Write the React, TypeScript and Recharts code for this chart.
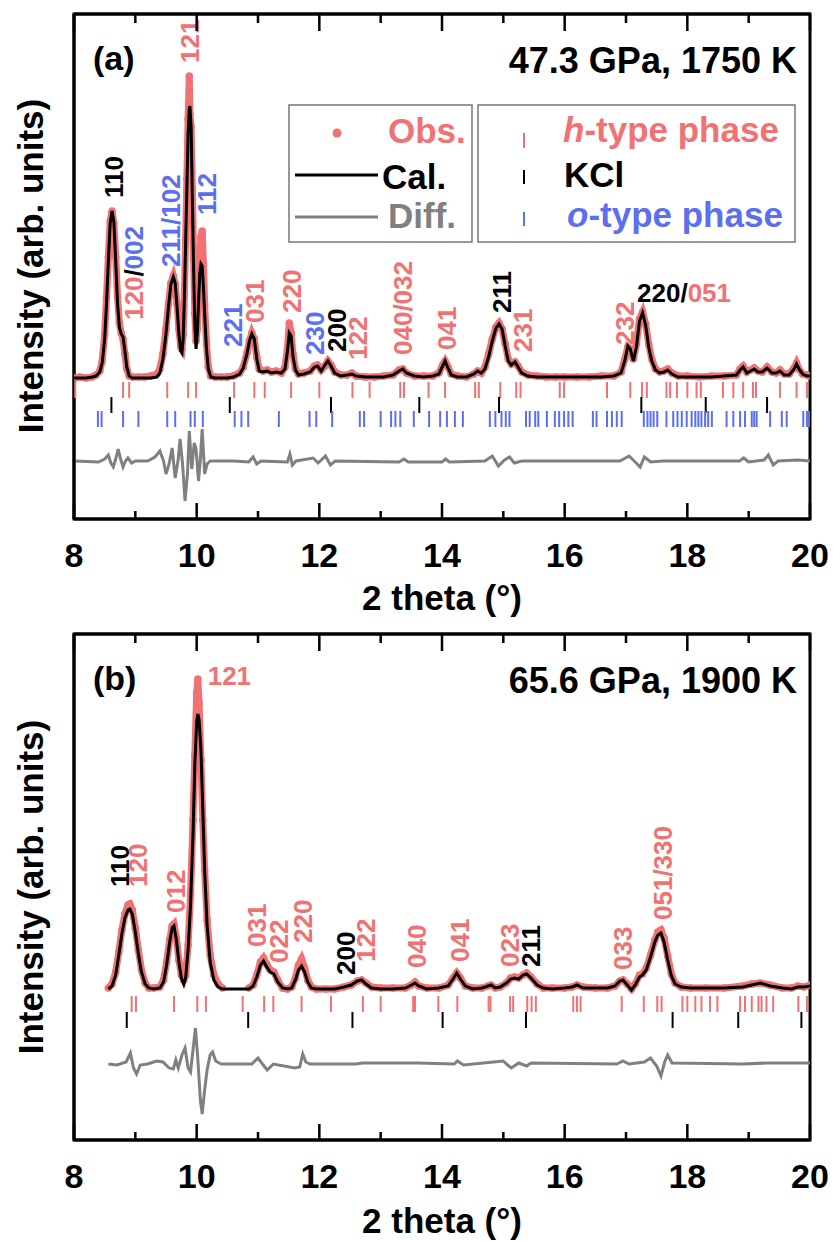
import React from 'react';
import { ComposedChart, Line, Scatter, XAxis, YAxis, ReferenceArea } from 'recharts';

const RED = '#f07272';
const BLUE = '#5b6ff0';
const GRAY = '#808080';
const FONT = "'Liberation Sans', Arial, Helvetica, sans-serif";
const PHASE_COLOR: Record<string, string> = { h: RED, k: '#000000', o: BLUE };

const xTicks = [8, 9, 10, 11, 12, 13, 14, 15, 16, 17, 18, 19, 20];

// ---------------- Panel (a): 47.3 GPa, 1750 K ----------------
const thetaA = [
  8.00, 8.10, 8.20, 8.30, 8.36, 8.42, 8.46, 8.50, 8.53, 8.56,
  8.59, 8.62, 8.65, 8.68, 8.71, 8.74, 8.77, 8.80, 8.83, 8.86,
  8.90, 8.95, 9.05, 9.15, 9.25, 9.35, 9.40, 9.45, 9.50, 9.54,
  9.58, 9.62, 9.65, 9.68, 9.71, 9.74, 9.76, 9.78, 9.80, 9.82,
  9.84, 9.86, 9.88, 9.89, 9.91, 9.93, 9.95, 9.97, 9.99, 10.01,
  10.03, 10.05, 10.07, 10.09, 10.11, 10.13, 10.16, 10.19, 10.23, 10.30,
  10.40, 10.50, 10.60, 10.70, 10.76, 10.82, 10.86, 10.90, 10.94, 10.98,
  11.02, 11.08, 11.15, 11.22, 11.30, 11.38, 11.44, 11.48, 11.51, 11.54,
  11.57, 11.61, 11.66, 11.75, 11.85, 11.92, 11.97, 12.03, 12.09, 12.14,
  12.19, 12.25, 12.35, 12.45, 12.53, 12.60, 12.75, 12.90, 13.05, 13.20,
  13.30, 13.36, 13.42, 13.55, 13.70, 13.85, 13.95, 14.01, 14.05, 14.09,
  14.15, 14.25, 14.40, 14.52, 14.58, 14.64, 14.70, 14.76, 14.82, 14.88,
  14.93, 14.98, 15.03, 15.08, 15.13, 15.19, 15.24, 15.30, 15.40, 15.55,
  15.70, 15.85, 16.00, 16.20, 16.40, 16.60, 16.80, 16.92, 16.98, 17.03,
  17.07, 17.12, 17.17, 17.22, 17.27, 17.32, 17.37, 17.42, 17.48, 17.55,
  17.62, 17.68, 17.75, 17.85, 18.00, 18.20, 18.40, 18.60, 18.80, 18.86,
  18.91, 18.97, 19.03, 19.09, 19.15, 19.22, 19.30, 19.38, 19.45, 19.51,
  19.58, 19.66, 19.74, 19.78, 19.82, 19.88, 19.95, 20.00,
];
const obsA = [
  141, 142, 141, 142, 144, 148, 158, 185, 222, 262,
  298, 308, 296, 262, 222, 196, 186, 180, 165, 150,
  143, 142, 142, 142, 143, 145, 150, 165, 190, 215,
  236, 243, 235, 215, 190, 172, 170, 185, 225, 280,
  340, 400, 443, 405, 392, 330, 260, 205, 178, 190,
  230, 262, 282, 288, 255, 215, 175, 152, 143, 142,
  142, 142, 143, 146, 152, 166, 178, 186, 180, 162,
  150, 148, 149, 147, 148, 146, 152, 170, 196, 186,
  165, 150, 145, 146, 148, 153, 154, 149, 153, 158,
  154, 147, 144, 144, 146, 143, 142, 142, 143, 144,
  149, 150, 146, 143, 143, 143, 146, 154, 158, 153,
  145, 143, 142, 145, 148, 146, 152, 165, 180, 192,
  196, 190, 175, 160, 155, 157, 153, 147, 144, 143,
  142, 142, 142, 142, 142, 143, 143, 147, 160, 172,
  170, 160, 175, 200, 207, 195, 175, 160, 150, 147,
  148, 150, 146, 143, 143, 142, 143, 143, 144, 150,
  153, 147, 149, 151, 148, 147, 152, 147, 146, 149,
  145, 145, 151, 156, 150, 145, 144, 143,
];
const calA = [
  141, 141, 141, 142, 143, 147, 156, 180, 215, 258,
  296, 308, 297, 258, 215, 192, 185, 182, 168, 152,
  143, 141, 141, 141, 141, 142, 146, 160, 185, 212,
  235, 242, 236, 212, 185, 168, 166, 180, 220, 275,
  330, 385, 410, 413, 392, 320, 250, 195, 170, 185,
  215, 245, 255, 253, 232, 205, 170, 150, 142, 141,
  141, 141, 142, 145, 151, 165, 178, 185, 180, 160,
  148, 147, 148, 146, 147, 146, 150, 168, 186, 183,
  163, 149, 144, 145, 147, 152, 153, 148, 154, 158,
  153, 146, 143, 144, 145, 143, 142, 142, 142, 144,
  148, 150, 146, 143, 142, 143, 145, 153, 158, 152,
  144, 142, 142, 145, 148, 146, 150, 162, 178, 191,
  195, 190, 173, 158, 154, 157, 152, 146, 143, 142,
  142, 142, 142, 142, 142, 142, 143, 146, 158, 173,
  170, 158, 172, 198, 206, 194, 172, 158, 149, 146,
  147, 149, 145, 142, 142, 142, 142, 143, 144, 149,
  152, 146, 148, 150, 147, 147, 151, 146, 146, 148,
  144, 144, 150, 155, 150, 145, 143, 143,
];
const diffThetaA = [
  8.00, 8.40, 8.50, 8.56, 8.60, 8.64, 8.68, 8.72, 8.76, 8.80,
  8.84, 8.88, 8.94, 9.00, 9.20, 9.32, 9.40, 9.46, 9.50, 9.55,
  9.60, 9.65, 9.70, 9.73, 9.77, 9.81, 9.85, 9.88, 9.92, 9.96,
  9.99, 10.03, 10.06, 10.09, 10.13, 10.17, 10.22, 10.60, 10.85, 10.92,
  10.98, 11.05, 11.48, 11.52, 11.56, 11.62, 11.90, 11.98, 12.10, 12.18,
  12.26, 13.30, 13.38, 13.45, 14.00, 14.06, 14.12, 14.70, 14.82, 14.92,
  15.02, 15.10, 15.18, 15.30, 16.90, 17.05, 17.15, 17.23, 17.30, 17.40,
  17.60, 18.85, 18.92, 19.00, 19.25, 19.32, 19.40, 19.48, 19.80, 20.00,
];
const diffA = [
  58, 57, 60, 64, 56, 52, 60, 70, 60, 52,
  58, 61, 56, 58, 58, 62, 68, 58, 45, 55,
  71, 41, 60, 80, 55, 18, 45, 88, 50, 76,
  70, 38, 60, 90, 45, 55, 58, 58, 57, 62,
  55, 58, 57, 65, 54, 58, 61, 56, 63, 54,
  58, 57, 60, 57, 57, 60, 57, 58, 63, 53,
  59, 62, 56, 58, 58, 63, 57, 52, 62, 57,
  58, 58, 61, 57, 59, 64, 54, 58, 59, 58,
];
const hPhaseA = [
  8.02, 8.80, 8.90, 9.52, 9.86, 9.99, 10.61, 10.94, 11.11, 11.54, 12.00, 12.54, 12.82,
  13.32, 13.38, 13.78, 14.05, 14.54, 14.60, 14.95, 15.21, 15.28, 15.92, 15.99, 16.69,
  17.07, 17.26, 17.34, 17.66, 17.72, 17.83, 18.00, 18.15, 18.22, 18.58, 18.75, 18.91,
  19.07, 19.12, 19.51, 19.78, 19.95,
];
const kclA = [8.61, 10.54, 12.19, 13.63, 14.93, 17.25, 18.30, 19.30];
const oPhaseA = [
  8.39, 8.45, 8.80, 9.05, 9.52, 9.65, 9.90, 9.97, 10.10, 10.62, 10.73, 10.84, 11.34,
  11.84, 11.95, 12.21, 12.66, 12.73, 13.00, 13.17, 13.24, 13.32, 13.54, 13.79, 13.97,
  14.08, 14.21, 14.34, 14.78, 14.87, 14.97, 15.04, 15.10, 15.37, 15.43, 15.52, 15.57,
  15.71, 15.84, 15.91, 15.99, 16.06, 16.13, 16.46, 16.52, 16.69, 16.77, 16.85, 16.93,
  17.29, 17.35, 17.40, 17.45, 17.51, 17.66, 17.77, 17.84, 17.91, 17.99, 18.07, 18.13,
  18.18, 18.23, 18.29, 18.34, 18.40, 18.64, 18.75, 18.86, 18.94, 19.05, 19.09, 19.13,
  19.35, 19.54, 19.62, 19.89, 19.95, 19.99,
];
type Lab = { t: number; v: number; rot: boolean; parts: [string, string][] };
const labelsA: Lab[] = [
  { t: 9.89, v: 456, rot: true, parts: [['121', 'h']] },
  { t: 8.64, v: 321, rot: true, parts: [['110', 'k']] },
  { t: 8.97, v: 199, rot: true, parts: [['120', 'h'], ['/', 'k'], ['002', 'o']] },
  { t: 9.57, v: 252, rot: true, parts: [['211/102', 'o']] },
  { t: 10.16, v: 304, rot: true, parts: [['112', 'o']] },
  { t: 10.59, v: 172, rot: true, parts: [['221', 'o']] },
  { t: 10.95, v: 196, rot: true, parts: [['031', 'h']] },
  { t: 11.55, v: 206, rot: true, parts: [['220', 'h']] },
  { t: 11.93, v: 164, rot: true, parts: [['230', 'o']] },
  { t: 12.29, v: 167, rot: true, parts: [['200', 'k']] },
  { t: 12.63, v: 159, rot: true, parts: [['122', 'h']] },
  { t: 13.35, v: 164, rot: true, parts: [['040/032', 'h']] },
  { t: 14.08, v: 169, rot: true, parts: [['041', 'h']] },
  { t: 14.98, v: 206, rot: true, parts: [['211', 'k']] },
  { t: 15.32, v: 167, rot: true, parts: [['231', 'h']] },
  { t: 16.98, v: 174, rot: true, parts: [['232', 'h']] },
  { t: 17.18, v: 217, rot: false, parts: [['220/', 'k'], ['051', 'h']] },
];

// ---------------- Panel (b): 65.6 GPa, 1900 K ----------------
const thetaB = [
  8.56, 8.62, 8.68, 8.73, 8.78, 8.83, 8.88, 8.91, 8.95, 9.00,
  9.05, 9.10, 9.16, 9.22, 9.30, 9.40, 9.46, 9.51, 9.56, 9.60,
  9.63, 9.67, 9.71, 9.75, 9.79, 9.82, 9.86, 9.90, 9.94, 9.97,
  10.00, 10.02, 10.04, 10.07, 10.10, 10.13, 10.17, 10.22, 10.28, 10.35,
  10.42, 10.60, 10.85, 10.92, 10.98, 11.04, 11.09, 11.14, 11.20, 11.26,
  11.32, 11.40, 11.48, 11.55, 11.61, 11.66, 11.71, 11.76, 11.81, 11.87,
  11.95, 12.10, 12.25, 12.40, 12.52, 12.62, 12.69, 12.76, 12.85, 13.00,
  13.20, 13.40, 13.50, 13.56, 13.62, 13.75, 13.95, 14.10, 14.18, 14.24,
  14.30, 14.38, 14.50, 14.65, 14.75, 14.80, 14.87, 14.95, 15.05, 15.12,
  15.18, 15.25, 15.32, 15.38, 15.45, 15.55, 15.65, 15.80, 16.00, 16.12,
  16.20, 16.30, 16.50, 16.70, 16.82, 16.90, 16.95, 17.02, 17.09, 17.15,
  17.22, 17.27, 17.33, 17.40, 17.47, 17.52, 17.57, 17.62, 17.68, 17.74,
  17.80, 17.90, 18.05, 18.30, 18.60, 18.90, 19.05, 19.19, 19.35, 19.55,
  19.70, 19.80, 19.90, 20.00,
];
const obsB: (number | null)[] = [
  152, 156, 168, 188, 210, 226, 235, 236, 230, 212,
  190, 170, 157, 152, 152, 153, 160, 178, 200, 214,
  216, 202, 180, 165, 160, 165, 195, 245, 320, 385,
  447, 461, 436, 380, 320, 270, 220, 185, 165, 156,
  152, null, 152, 155, 165, 178, 182, 176, 170, 168,
  160, 152, 151, 153, 162, 175, 181, 172, 160, 153,
  151, 151, 151, 153, 155, 159, 160, 157, 153, 152,
  152, 152, 155, 158, 154, 152, 152, 155, 162, 167,
  162, 154, 152, 152, 154, 155, 152, 153, 157, 162,
  163, 162, 165, 167, 163, 156, 152, 152, 152, 153,
  155, 153, 152, 152, 154, 159, 160, 156, 151, 156,
  165, 166, 172, 185, 200, 208, 210, 202, 184, 166,
  157, 153, 152, 152, 152, 154, 156, 157, 155, 152,
  152, 154, 153, 155,
];
const calB = [
  151, 154, 165, 185, 206, 222, 230, 231, 226, 208,
  186, 168, 156, 152, 151, 152, 158, 175, 198, 212,
  214, 200, 178, 162, 156, 162, 190, 235, 305, 375,
  418, 426, 420, 390, 330, 270, 215, 178, 160, 153,
  151, 151, 151, 154, 163, 175, 179, 173, 168, 166,
  158, 152, 151, 152, 160, 170, 174, 168, 158, 152,
  151, 151, 151, 153, 155, 159, 160, 156, 152, 151,
  151, 152, 155, 157, 154, 151, 152, 154, 161, 167,
  161, 154, 151, 152, 154, 155, 152, 153, 157, 161,
  162, 161, 165, 166, 162, 155, 152, 151, 152, 153,
  155, 152, 152, 152, 154, 159, 160, 155, 150, 155,
  163, 165, 170, 183, 198, 205, 207, 198, 180, 164,
  156, 153, 152, 152, 152, 153, 155, 157, 154, 152,
  151, 153, 153, 154,
];
const diffThetaB = [
  8.56, 8.70, 8.85, 8.92, 8.97, 9.02, 9.08, 9.20, 9.35, 9.45,
  9.55, 9.62, 9.66, 9.70, 9.76, 9.81, 9.86, 9.90, 9.94, 9.98,
  10.02, 10.06, 10.09, 10.13, 10.17, 10.22, 10.26, 10.31, 10.40, 10.90,
  11.00, 11.06, 11.15, 11.25, 11.60, 11.68, 11.73, 11.78, 11.85, 12.60,
  12.70, 13.60, 14.20, 14.25, 14.35, 15.00, 15.07, 15.13, 15.25, 15.38,
  15.45, 16.85, 16.95, 17.05, 17.30, 17.40, 17.50, 17.57, 17.63, 17.68,
  17.75, 18.90, 19.30, 20.00,
];
const diffB = [
  76, 75, 78, 87, 72, 66, 75, 76, 79, 78,
  72, 71, 80, 72, 85, 92, 72, 68, 90, 112,
  80, 40, 26, 50, 70, 85, 88, 79, 76, 76,
  82, 77, 70, 76, 72, 73, 86, 78, 76, 76,
  77, 77, 76, 79, 75, 79, 75, 72, 77, 74,
  77, 76, 79, 76, 78, 82, 74, 64, 78, 85,
  77, 76, 77, 77,
];
const hPhaseB = [
  8.94, 9.01, 9.63, 10.01, 10.15, 10.75, 11.10, 11.25, 11.71, 12.19, 12.71, 13.00,
  13.53, 13.56, 13.94, 14.25, 14.76, 14.79, 15.11, 15.16, 15.39, 15.46, 15.53, 16.14,
  16.20, 16.26, 16.93, 17.29, 17.51, 17.58, 17.92, 18.00, 18.13, 18.23, 18.37, 18.49,
  18.86, 18.94, 19.05, 19.16, 19.21, 19.29, 19.40, 19.81, 19.95,
];
const kclB = [8.86, 10.84, 12.54, 14.01, 15.37, 17.76, 18.83, 19.86];
const labelsB: Lab[] = [
  { t: 10.18, v: 455, rot: false, parts: [['121', 'h']] },
  { t: 8.75, v: 253, rot: true, parts: [['110', 'k']] },
  { t: 9.04, v: 253, rot: true, parts: [['120', 'h']] },
  { t: 9.65, v: 227, rot: true, parts: [['012', 'h']] },
  { t: 10.98, v: 193, rot: true, parts: [['031', 'h']] },
  { t: 11.33, v: 177, rot: true, parts: [['022', 'h']] },
  { t: 11.73, v: 197, rot: true, parts: [['220', 'h']] },
  { t: 12.43, v: 165, rot: true, parts: [['200', 'k']] },
  { t: 12.76, v: 178, rot: true, parts: [['122', 'h']] },
  { t: 13.59, v: 172, rot: true, parts: [['040', 'h']] },
  { t: 14.29, v: 178, rot: true, parts: [['041', 'h']] },
  { t: 15.11, v: 173, rot: true, parts: [['023', 'h']] },
  { t: 15.44, v: 173, rot: true, parts: [['211', 'k']] },
  { t: 16.95, v: 170, rot: true, parts: [['033', 'h']] },
  { t: 17.60, v: 220, rot: true, parts: [['051/330', 'h']] },
];

// ---------------- rendering helpers ----------------
const makeTable = (theta: number[], obs: (number | null)[], cal: number[]) =>
  theta.map((t, i) => ({ t, obs: obs[i], cal: cal[i] }));
const makeDiff = (theta: number[], d: number[]) => theta.map((t, i) => ({ t, diff: d[i] }));
const makeRow = (pos: number[], row: number) => pos.map((t) => ({ t, v: row }));

const BottomTick = (props: any) => {
  const { x, y, payload } = props;
  const v = payload.value;
  const major = v % 2 === 0;
  return (
    <g>
      <line x1={x} x2={x} y1={y} y2={y - (major ? 16 : 8)} stroke="#000" strokeWidth={2.5} />
      {major && (
        <text x={x} y={y + 48} textAnchor="middle" fontSize={34} fontWeight="bold" fontFamily={FONT} fill="#000">
          {v}
        </text>
      )}
    </g>
  );
};
const TopTick = (props: any) => {
  const { x, y, payload } = props;
  const major = payload.value % 2 === 0;
  return <line x1={x} x2={x} y1={y} y2={y + (major ? 17 : 9)} stroke="#000" strokeWidth={2.5} />;
};

const ObsDot = (p: any) =>
  p.cx == null || p.cy == null || p.value == null ? (
    <g key={p.key} />
  ) : (
    <circle key={p.key} cx={p.cx} cy={p.cy} r={3.8} fill={RED} />
  );
const tickShape = (color: string) => (p: any) =>
  p.cx == null ? <g /> : <line x1={p.cx} x2={p.cx} y1={p.cy - 8} y2={p.cy + 8} stroke={color} strokeWidth={2} />;

const LabelShape = (p: any) => {
  const d = p.payload && p.payload.parts ? p.payload : p;
  if (p.cx == null || !d.parts) return <g />;
  const spans = d.parts.map((pt: [string, string], i: number) => (
    <tspan key={i} fill={PHASE_COLOR[pt[1]]}>{pt[0]}</tspan>
  ));
  if (d.rot) {
    return (
      <text transform={`translate(${p.cx},${p.cy}) rotate(-90)`} dy="0.36em" fontSize={26} fontWeight="bold" fontFamily={FONT}>
        {spans}
      </text>
    );
  }
  return (
    <text x={p.cx} y={p.cy} fontSize={26} fontWeight="bold" fontFamily={FONT}>
      {spans}
    </text>
  );
};

type PanelProps = {
  height: number;
  yMax: number;
  table: { t: number; obs: number | null; cal: number }[];
  diff: { t: number; diff: number }[];
  rows: { data: { t: number; v: number }[]; color: string }[];
  labels: Lab[];
};

const axisLine = { stroke: '#000', strokeWidth: 3 };

// plot area: left 74, right 810, top 14, bottom = height - 101
function Panel({ height, yMax, table, diff, rows, labels }: PanelProps) {
  return (
    <ComposedChart width={833} height={height} margin={{ top: 4, right: 23, bottom: 71, left: 64 }}>
      <XAxis
        xAxisId="b" type="number" dataKey="t" domain={[8, 20]} ticks={xTicks} interval={0}
        tick={BottomTick} tickLine={false} tickSize={0} tickMargin={0} height={30}
        axisLine={axisLine} allowDataOverflow
      />
      <XAxis
        xAxisId="t" orientation="top" type="number" dataKey="t" domain={[8, 20]} ticks={xTicks} interval={0}
        tick={TopTick} tickLine={false} tickSize={0} tickMargin={0} height={10}
        axisLine={axisLine} allowDataOverflow
      />
      <YAxis yAxisId="l" type="number" domain={[0, yMax]} width={10} tick={false} tickLine={false} axisLine={axisLine} allowDataOverflow />
      <ReferenceArea xAxisId="b" yAxisId="l" x1={8} x2={20} y1={0} y2={yMax} fill="none" fillOpacity={0}
        stroke="#000" strokeWidth={3} ifOverflow="visible" />
      <Line xAxisId="b" yAxisId="l" data={table} dataKey="obs" stroke={RED} strokeWidth={7} dot={ObsDot}
        connectNulls={false} isAnimationActive={false} />
      <Line xAxisId="b" yAxisId="l" data={table} dataKey="cal" stroke="#000" strokeWidth={3} dot={false}
        isAnimationActive={false} zIndex={700} />
      <Line xAxisId="b" yAxisId="l" data={diff} dataKey="diff" stroke={GRAY} strokeWidth={3} dot={false}
        isAnimationActive={false} />
      {rows.map((r, i) => (
        <Scatter key={i} xAxisId="b" yAxisId="l" data={r.data} dataKey="v" shape={tickShape(r.color)} isAnimationActive={false} />
      ))}
      <Scatter xAxisId="b" yAxisId="l" data={labels} dataKey="v" shape={LabelShape} isAnimationActive={false} />
    </ComposedChart>
  );
}

const txt = { fontFamily: FONT, fontWeight: 'bold' as const };

export default function App() {
  const tableA = makeTable(thetaA, obsA, calA);
  const tableB = makeTable(thetaB, obsB, calB);
  return (
    <div style={{ position: 'absolute', left: 0, top: 0, width: 833, height: 1241, background: '#fff' }}>
      <div style={{ position: 'absolute', left: 0, top: 0 }}>
        <Panel
          height={620}
          yMax={505}
          table={tableA}
          diff={makeDiff(diffThetaA, diffA)}
          rows={[
            { data: makeRow(hPhaseA, 129), color: RED },
            { data: makeRow(kclA, 114), color: '#000' },
            { data: makeRow(oPhaseA, 100), color: BLUE },
          ]}
          labels={labelsA}
        />
      </div>
      <div style={{ position: 'absolute', left: 0, top: 620 }}>
        <Panel
          height={621}
          yMax={506}
          table={tableB}
          diff={makeDiff(diffThetaB, diffB)}
          rows={[
            { data: makeRow(hPhaseB, 136), color: RED },
            { data: makeRow(kclB, 120), color: '#000' },
          ]}
          labels={labelsB}
        />
      </div>
      <svg width={833} height={1241} style={{ position: 'absolute', left: 0, top: 0, pointerEvents: 'none' }}>
        {/* panel (a) texts */}
        <text x={93} y={70} fontSize={34} {...txt}>(a)</text>
        <text x={797} y={73} fontSize={36} textAnchor="end" {...txt}>47.3 GPa, 1750 K</text>
        <text transform="translate(43,266) rotate(-90)" textAnchor="middle" fontSize={35} {...txt}>Intensity (arb. units)</text>
        <text x={442} y={610} textAnchor="middle" fontSize={35} {...txt}>2 theta (°)</text>
        {/* legend */}
        <rect x={289} y={105} width={183} height={137} fill="#fff" stroke="#777" strokeWidth={1.5} />
        <rect x={478} y={105} width={317} height={137} fill="#fff" stroke="#777" strokeWidth={1.5} />
        <circle cx={337} cy={133} r={4.5} fill={RED} />
        <line x1={295} x2={378} y1={175} y2={175} stroke="#000" strokeWidth={3} />
        <line x1={295} x2={378} y1={217} y2={217} stroke={GRAY} strokeWidth={3} />
        <text x={388} y={143} fontSize={35} fill={RED} {...txt}>Obs.</text>
        <text x={382} y={189} fontSize={35} fill="#000" {...txt}>Cal.</text>
        <text x={388} y={228} fontSize={35} fill={GRAY} {...txt}>Diff.</text>
        <line x1={524} x2={524} y1={133} y2={148} stroke={RED} strokeWidth={2} />
        <line x1={524} x2={524} y1={170} y2={184} stroke="#000" strokeWidth={2} />
        <line x1={524} x2={524} y1={212} y2={226} stroke={BLUE} strokeWidth={2} />
        <text x={563} y={142} fontSize={35} fill={RED} {...txt}>
          <tspan fontStyle="italic">h</tspan>-type phase
        </text>
        <text x={564} y={187} fontSize={35} fill="#000" {...txt}>KCl</text>
        <text x={567} y={227} fontSize={35} fill={BLUE} {...txt}>
          <tspan fontStyle="italic">o</tspan>-type phase
        </text>
        {/* panel (b) texts */}
        <text x={93} y={690} fontSize={34} {...txt}>(b)</text>
        <text x={797} y={693} fontSize={36} textAnchor="end" {...txt}>65.6 GPa, 1900 K</text>
        <text transform="translate(43,887) rotate(-90)" textAnchor="middle" fontSize={35} {...txt}>Intensity (arb. units)</text>
        <text x={442} y={1233} textAnchor="middle" fontSize={35} {...txt}>2 theta (°)</text>
      </svg>
    </div>
  );
}
